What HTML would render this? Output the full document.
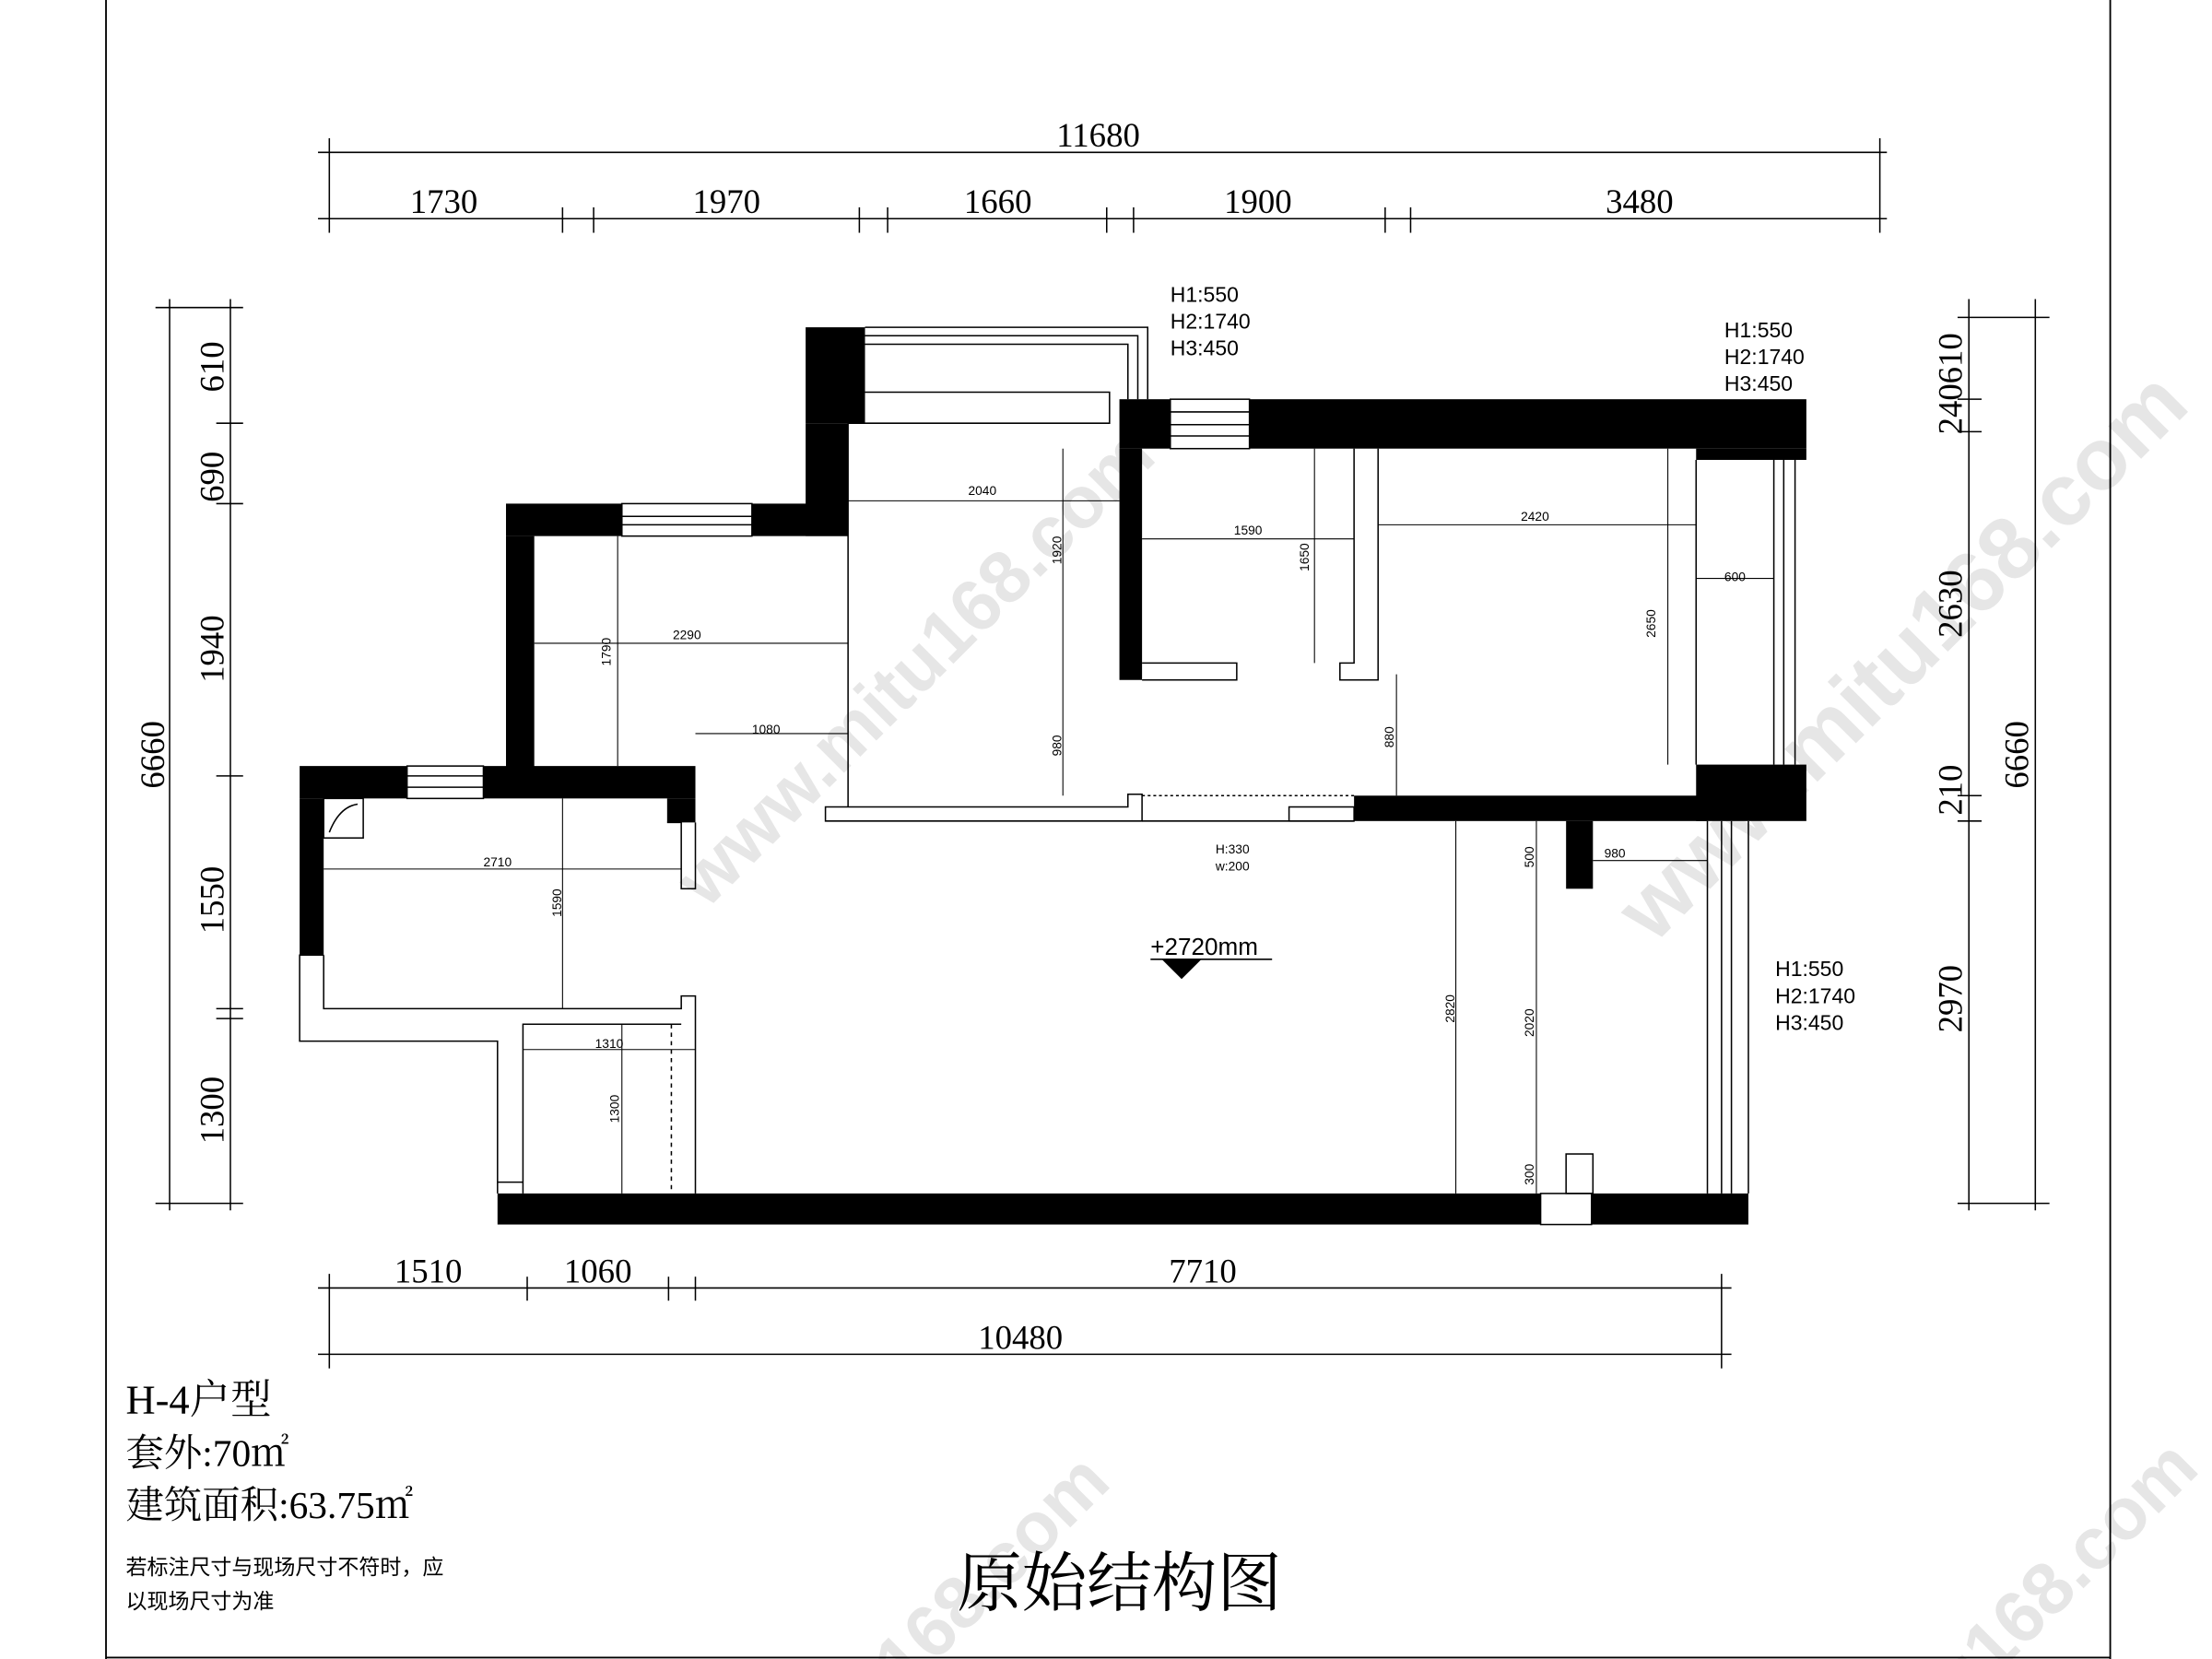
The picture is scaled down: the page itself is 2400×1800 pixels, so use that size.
<!DOCTYPE html>
<html><head><meta charset="utf-8">
<style>
html,body{margin:0;padding:0;background:#fff;width:2400px;height:1800px;overflow:hidden;position:relative;}
svg{display:block;overflow:hidden;position:absolute;left:0;top:0;}
.d{font-family:"Liberation Serif","Noto Serif CJK SC",serif;font-size:24px;fill:#000;}
.s{font-family:"Liberation Sans",sans-serif;font-size:9px;fill:#000;}
.h{font-family:"Liberation Sans",sans-serif;font-size:15px;fill:#000;}
.c{font-family:"Liberation Serif","Noto Serif CJK SC",serif;fill:#000;}
</style></head><body>
<svg width="2400" height="1800" viewBox="0 0 1565 1176" preserveAspectRatio="none" xmlns="http://www.w3.org/2000/svg">
<defs><clipPath id="cp"><rect width="1565" height="1176"/></clipPath></defs>
<rect width="1565" height="1176" fill="#fff"/>
<g clip-path="url(#cp)">
<g fill="#e6e6e6" font-family="Liberation Sans,sans-serif" font-size="52" font-weight="bold">
<text transform="translate(500,645) rotate(-45)">www.mitu168.com</text>
<text transform="translate(1170,670) rotate(-45)" font-size="62">www.mitu168.com</text>
<text transform="translate(468,1372) rotate(-45)">www.mitu168.com</text>
<text transform="translate(1238,1362) rotate(-45)">www.mitu168.com</text>
</g>
</g>
<g stroke="#000" stroke-width="1.2" fill="none">
<line x1="75" y1="0" x2="75" y2="1176"/>
<line x1="1493" y1="0" x2="1493" y2="1176"/>
<line x1="75" y1="1175" x2="1493" y2="1175"/>
</g>
<g fill="#000">
<rect x="570" y="232" width="42" height="68"/>
<rect x="570" y="300" width="30" height="80"/>
<rect x="792" y="283" width="36" height="35"/>
<rect x="884" y="283" width="394" height="35"/>
<rect x="792" y="318" width="16" height="164"/>
<rect x="1200" y="318" width="78" height="8"/>
<rect x="1200" y="542" width="78" height="40"/>
<rect x="958" y="564" width="250" height="18"/>
<rect x="1108" y="582" width="19" height="48"/>
<rect x="358" y="357" width="82" height="23"/>
<rect x="532" y="357" width="68" height="23"/>
<rect x="358" y="380" width="20" height="170"/>
<rect x="212" y="543" width="76" height="23"/>
<rect x="342" y="543" width="150" height="23"/>
<rect x="472" y="566" width="20" height="17"/>
<rect x="212" y="566" width="17" height="111"/>
<rect x="352" y="846" width="738" height="22"/>
<rect x="1126" y="846" width="111" height="22"/>
</g>
<g stroke="#000" stroke-width="1" fill="none">
<polyline points="612,232 812,232 812,283"/>
<polyline points="612,238 805,238 805,283"/>
<polyline points="612,244 798,244 798,283"/>
<polyline points="612,278 785,278 785,300 600,300"/>
<rect x="828" y="283" width="56" height="35"/>
<line x1="828" y1="292" x2="884" y2="292"/><line x1="828" y1="301" x2="884" y2="301"/><line x1="828" y1="309" x2="884" y2="309"/>
<rect x="440" y="357" width="92" height="23"/>
<line x1="440" y1="366" x2="532" y2="366"/><line x1="440" y1="372" x2="532" y2="372"/>
<rect x="288" y="543" width="54" height="23"/>
<line x1="288" y1="550" x2="342" y2="550"/><line x1="288" y1="558" x2="342" y2="558"/>
<line x1="1255" y1="326" x2="1255" y2="542"/><line x1="1262" y1="326" x2="1262" y2="542"/><line x1="1270" y1="326" x2="1270" y2="542"/>
<polyline points="1200,326 1200,542"/>
<polyline points="808,470 875,470 875,482 808,482"/>
<polyline points="958,318 958,470 948,470 948,482 975,482 975,318"/>
<polyline points="600,300 600,572 798,572 798,563 808,563 808,582 584,582 584,572 600,572"/>
<line x1="808" y1="582" x2="958" y2="582"/>
<line x1="808" y1="564" x2="958" y2="564" stroke-dasharray="2,2"/>
<rect x="912" y="572" width="46" height="10"/>
<polyline points="472,583 482,583 482,630 492,630 492,583"/>
<polyline points="229,677 212,677 212,738 352,738 352,846"/>
<polyline points="229,677 229,715 482,715 482,706 492,706 492,846"/>
<polyline points="370,846 370,726 482,726"/>
<line x1="352" y1="838" x2="370" y2="838"/>
<line x1="475" y1="726" x2="475" y2="846" stroke-dasharray="3,3"/>
<polyline points="1208,582 1208,846"/>
<line x1="1218" y1="582" x2="1218" y2="846"/><line x1="1225" y1="582" x2="1225" y2="846"/><line x1="1237" y1="582" x2="1237" y2="846"/>
<rect x="1090" y="846" width="36" height="22"/>
<rect x="1108" y="818" width="19" height="28"/>
<rect x="229" y="566" width="28" height="28"/>
<path d="M233,590 Q240,572 253,570"/>
</g>
<g stroke="#000" stroke-width="0.7" fill="none">
<line x1="600" y1="355" x2="792" y2="355"/>
<line x1="752" y1="318" x2="752" y2="564"/>
<line x1="808" y1="382" x2="958" y2="382"/>
<line x1="930" y1="318" x2="930" y2="470"/>
<line x1="975" y1="372" x2="1200" y2="372"/>
<line x1="1180" y1="318" x2="1180" y2="542"/>
<line x1="1200" y1="410" x2="1255" y2="410"/>
<line x1="378" y1="456" x2="600" y2="456"/>
<line x1="437" y1="380" x2="437" y2="543"/>
<line x1="492" y1="520" x2="600" y2="520"/>
<line x1="988" y1="478" x2="988" y2="564"/>
<line x1="229" y1="616" x2="482" y2="616"/>
<line x1="398" y1="566" x2="398" y2="715"/>
<line x1="370" y1="744" x2="492" y2="744"/>
<line x1="440" y1="726" x2="440" y2="846"/>
<line x1="1030" y1="582" x2="1030" y2="846"/>
<line x1="1087" y1="582" x2="1087" y2="846"/>
<line x1="1127" y1="610" x2="1208" y2="610"/>
</g>
<g class="s">
<text x="685" y="351">2040</text>
<text x="873" y="379">1590</text>
<text x="1076" y="369">2420</text>
<text x="1220" y="412">600</text>
<text x="476" y="453">2290</text>
<text x="532" y="520">1080</text>
<text x="342" y="614">2710</text>
<text x="421" y="743">1310</text>
<text x="1135" y="608">980</text>
<text transform="translate(751,400) rotate(-90)">1920</text>
<text transform="translate(926,405) rotate(-90)">1650</text>
<text transform="translate(1171,452) rotate(-90)">2650</text>
<text transform="translate(432,472) rotate(-90)">1790</text>
<text transform="translate(751,536) rotate(-90)">980</text>
<text transform="translate(986,530) rotate(-90)">880</text>
<text transform="translate(397,650) rotate(-90)">1590</text>
<text transform="translate(438,796) rotate(-90)">1300</text>
<text transform="translate(1029,725) rotate(-90)">2820</text>
<text transform="translate(1085,735) rotate(-90)">2020</text>
<text transform="translate(1085,615) rotate(-90)">500</text>
<text transform="translate(1085,840) rotate(-90)">300</text>
<text x="860" y="605">H:330</text>
<text x="860" y="617">w:200</text>
</g>
<g class="h">
<text x="828" y="214">H1:550</text><text x="828" y="233">H2:1740</text><text x="828" y="252">H3:450</text>
<text x="1220" y="239">H1:550</text><text x="1220" y="258">H2:1740</text><text x="1220" y="277">H3:450</text>
<text x="1256" y="692">H1:550</text><text x="1256" y="711">H2:1740</text><text x="1256" y="730">H3:450</text>
<text x="814" y="677" style="font-size:17px">+2720mm</text>
</g>
<polygon points="822,680 850,680 836,694" fill="#000"/>
<line x1="814" y1="680" x2="900" y2="680" stroke="#000" stroke-width="1"/>
<g stroke="#000" stroke-width="1" fill="none">
<line x1="225" y1="108" x2="1335" y2="108"/>
<line x1="225" y1="155" x2="1335" y2="155"/>
<line x1="233" y1="98" x2="233" y2="165"/><line x1="1330" y1="98" x2="1330" y2="165"/>
<line x1="398" y1="147" x2="398" y2="165"/><line x1="420" y1="147" x2="420" y2="165"/>
<line x1="608" y1="147" x2="608" y2="165"/><line x1="628" y1="147" x2="628" y2="165"/>
<line x1="783" y1="147" x2="783" y2="165"/><line x1="802" y1="147" x2="802" y2="165"/>
<line x1="980" y1="147" x2="980" y2="165"/><line x1="998" y1="147" x2="998" y2="165"/>
<line x1="120" y1="212" x2="120" y2="858"/>
<line x1="163" y1="212" x2="163" y2="858"/>
<line x1="110" y1="218" x2="172" y2="218"/><line x1="110" y1="853" x2="172" y2="853"/>
<line x1="153" y1="300" x2="172" y2="300"/><line x1="153" y1="357" x2="172" y2="357"/>
<line x1="153" y1="550" x2="172" y2="550"/><line x1="153" y1="715" x2="172" y2="715"/><line x1="153" y1="722" x2="172" y2="722"/>
<line x1="1393" y1="212" x2="1393" y2="858"/>
<line x1="1440" y1="212" x2="1440" y2="858"/>
<line x1="1385" y1="225" x2="1450" y2="225"/><line x1="1385" y1="853" x2="1450" y2="853"/>
<line x1="1385" y1="283" x2="1402" y2="283"/><line x1="1385" y1="306" x2="1402" y2="306"/>
<line x1="1385" y1="564" x2="1402" y2="564"/><line x1="1385" y1="582" x2="1402" y2="582"/>
<line x1="225" y1="913" x2="1225" y2="913"/>
<line x1="225" y1="960" x2="1225" y2="960"/>
<line x1="233" y1="903" x2="233" y2="970"/><line x1="1218" y1="903" x2="1218" y2="970"/>
<line x1="373" y1="905" x2="373" y2="922"/><line x1="473" y1="905" x2="473" y2="922"/><line x1="492" y1="905" x2="492" y2="922"/>
</g>
<g class="d">
<text x="777" y="104" text-anchor="middle">11680</text>
<text x="314" y="151" text-anchor="middle">1730</text>
<text x="514" y="151" text-anchor="middle">1970</text>
<text x="706" y="151" text-anchor="middle">1660</text>
<text x="890" y="151" text-anchor="middle">1900</text>
<text x="1160" y="151" text-anchor="middle">3480</text>
<text x="303" y="909" text-anchor="middle">1510</text>
<text x="423" y="909" text-anchor="middle">1060</text>
<text x="851" y="909" text-anchor="middle">7710</text>
<text x="722" y="956" text-anchor="middle">10480</text>
<text transform="translate(116,535) rotate(-90)" text-anchor="middle">6660</text>
<text transform="translate(158,260) rotate(-90)" text-anchor="middle">610</text>
<text transform="translate(158,338) rotate(-90)" text-anchor="middle">690</text>
<text transform="translate(158,460) rotate(-90)" text-anchor="middle">1940</text>
<text transform="translate(158,638) rotate(-90)" text-anchor="middle">1550</text>
<text transform="translate(158,787) rotate(-90)" text-anchor="middle">1300</text>
<text transform="translate(1388,272) rotate(-90)" text-anchor="middle">240610</text>
<text transform="translate(1388,428) rotate(-90)" text-anchor="middle">2630</text>
<text transform="translate(1388,560) rotate(-90)" text-anchor="middle">210</text>
<text transform="translate(1388,708) rotate(-90)" text-anchor="middle">2970</text>
<text transform="translate(1435,535) rotate(-90)" text-anchor="middle">6660</text>
</g>
<g class="c">
<text x="89" y="1002" font-size="29">H-4户型</text>
<text x="89" y="1039" font-size="27">套外:70㎡</text>
<text x="89" y="1076" font-size="27">建筑面积:63.75㎡</text>
<text x="89" y="1116" font-size="15" font-family="Liberation Sans,Noto Sans CJK SC,sans-serif">若标注尺寸与现场尺寸不符时，应</text>
<text x="89" y="1140" font-size="15" font-family="Liberation Sans,Noto Sans CJK SC,sans-serif">以现场尺寸为准</text>
<text x="677" y="1138" font-size="46">原始结构图</text>
</g>
</svg>
</body></html>
